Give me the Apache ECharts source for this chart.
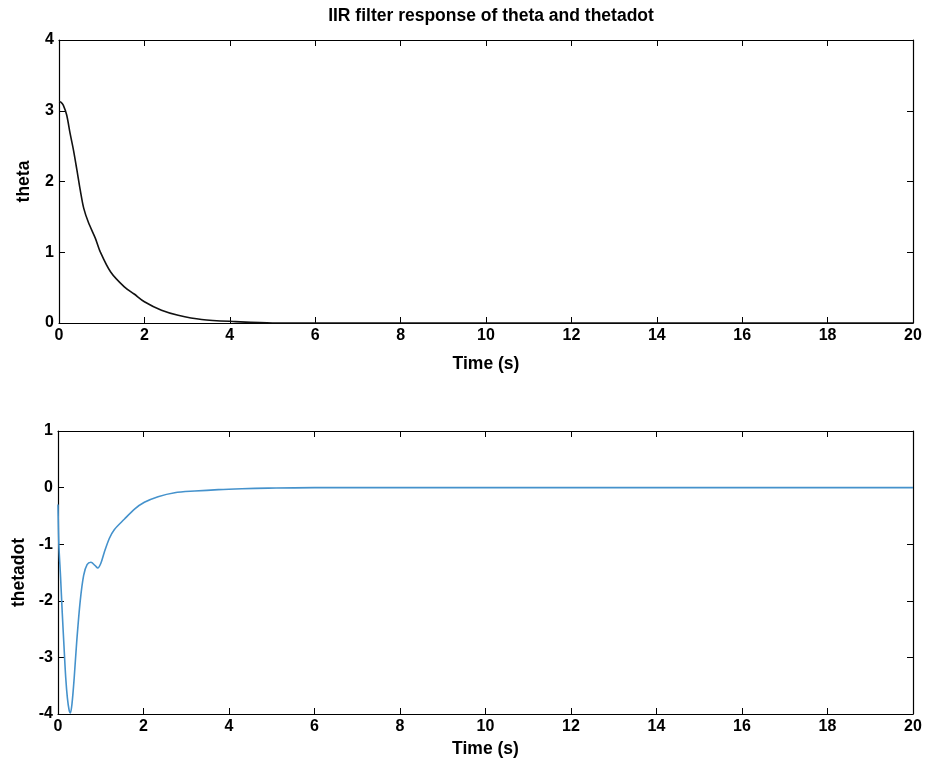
<!DOCTYPE html>
<html>
<head>
<meta charset="utf-8">
<script src="https://cdn.jsdelivr.net/npm/echarts@6/dist/echarts.min.js"></script>
<style>html,body{margin:0;padding:0;background:#fff}#c{width:930px;height:770px}</style>
</head>
<body>
<div id="c"></div>
<script>
var titleText = 'IIR filter response of theta and thetadot';
var xTicks = [0, 2, 4, 6, 8, 10, 12, 14, 16, 18, 20];
var thetaTicks = [0, 1, 2, 3, 4];
var thetadotTicks = [-4, -3, -2, -1, 0, 1];

var thetaT = [0, 0.05, 0.1, 0.18, 0.26, 0.34, 0.42, 0.5, 0.58, 0.69, 0.85, 0.97, 1.21, 1.53, 1.76, 2.0, 2.4, 2.79, 3.34, 4.13, 5, 20];
var thetaV = [3.13, 3.12, 3.08, 2.94, 2.68, 2.44, 2.16, 1.87, 1.62, 1.42, 1.2, 1.0, 0.72, 0.51, 0.41, 0.30, 0.18, 0.11, 0.05, 0.02, 0, 0];

var thetadotT = [0, 0.02, 0.06, 0.1, 0.14, 0.18, 0.22, 0.26, 0.29, 0.33, 0.38, 0.44, 0.52, 0.6, 0.68, 0.77, 0.87, 0.93, 1.0, 1.08, 1.2, 1.32, 1.55, 1.79, 2.02, 2.34, 2.73, 3.2, 3.75, 4.3, 4.92, 6, 20];
var thetadotV = [-0.3, -1.0, -1.58, -2.22, -2.8, -3.35, -3.72, -3.93, -3.98, -3.8, -3.35, -2.7, -2.0, -1.55, -1.36, -1.32, -1.38, -1.42, -1.34, -1.15, -0.9, -0.74, -0.56, -0.38, -0.26, -0.16, -0.09, -0.06, -0.035, -0.02, -0.01, 0, 0];

function pairs(t, v) { return t.map(function (x, i) { return [x, v[i]]; }); }

var font = 'Liberation Sans, Arial, sans-serif';
var lab = { color: '#000', fontSize: 16, fontWeight: 'bold', fontFamily: font };
var nameStyle = { color: '#000', fontSize: 17.5, fontWeight: 'bold', fontFamily: font };
function xAx(gi, show, gap) {
  return {
    type: 'value', gridIndex: gi, min: xTicks[0], max: xTicks[xTicks.length - 1], interval: 2,
    position: show ? 'bottom' : 'top',
    name: show ? 'Time (s)' : '', nameLocation: 'middle', nameGap: gap || 30,
    nameTextStyle: nameStyle,
    axisLine: { show: true, onZero: false, lineStyle: { color: '#000', width: 1.2 } },
    axisTick: { show: true, inside: true, length: 6, lineStyle: { color: '#000' } },
    axisLabel: show ? Object.assign({ margin: 5 }, lab) : { show: false },
    splitLine: { show: false }
  };
}
function yAx(gi, ticks, name, show) {
  return {
    type: 'value', gridIndex: gi, min: ticks[0], max: ticks[ticks.length - 1], interval: 1,
    position: show ? 'left' : 'right',
    name: show ? name : '', nameLocation: 'middle', nameGap: 26,
    nameTextStyle: nameStyle,
    axisLine: { show: true, onZero: false, lineStyle: { color: '#000', width: 1.2 } },
    axisTick: { show: true, inside: true, length: 6, lineStyle: { color: '#000' } },
    axisLabel: show ? Object.assign({ margin: 5 }, lab) : { show: false },
    splitLine: { show: false }
  };
}

var chart = echarts.init(document.getElementById('c'), null, { renderer: 'canvas' });
chart.setOption({
  backgroundColor: '#fff',
  animation: false,
  title: {
    text: titleText, left: 486, top: 2, textAlign: 'center',
    textStyle: { color: '#000', fontSize: 17.5, fontWeight: 'bold', fontFamily: font }
  },
  grid: [
    { left: 59, right: 17, top: 40, height: 283 },
    { left: 58, right: 17, top: 431, height: 283 }
  ],
  xAxis: [xAx(0, true, 32), xAx(0, false), xAx(1, true, 26), xAx(1, false)],
  yAxis: [yAx(0, thetaTicks, 'theta', true), yAx(0, thetaTicks, '', false),
          yAx(1, thetadotTicks, 'thetadot', true), yAx(1, thetadotTicks, '', false)],
  series: [
    { type: 'line', xAxisIndex: 0, yAxisIndex: 0, data: pairs(thetaT, thetaV), smooth: 0.3, showSymbol: false,
      lineStyle: { color: '#111', width: 1.6 } },
    { type: 'line', xAxisIndex: 2, yAxisIndex: 2, data: pairs(thetadotT, thetadotV), smooth: 0.3, showSymbol: false,
      lineStyle: { color: '#4592cc', width: 1.6 } }
  ]
});
</script>
</body>
</html>
